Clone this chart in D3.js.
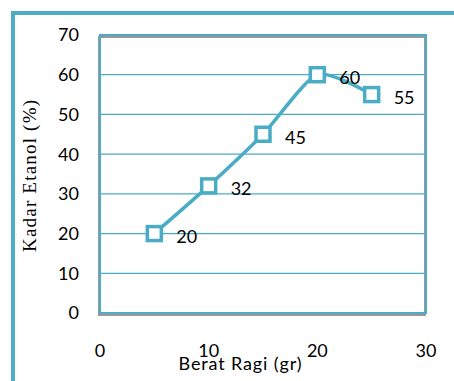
<!DOCTYPE html>
<html><head><meta charset="utf-8">
<script src="https://cdn.jsdelivr.net/npm/d3@7"></script>
<style>body{margin:0;background:#fff}svg{display:block}</style>
</head><body>
<script>
const xValues = [5, 10, 15, 20, 25];
const yValues = [20, 32, 45, 60, 55];
const xTicks = [0, 10, 20, 30];
const yTicks = [0, 10, 20, 30, 40, 50, 60, 70];
const xTitle = "Berat Ragi (gr)";
const yTitle = "Kadar Etanol (%)";

const W = 454, H = 381, C = "#4BACC6";
const svg = d3.select("body").append("svg").attr("width", W).attr("height", H);

// outer frame
svg.append("rect").attr("x", 13).attr("y", 13).attr("width", 460).attr("height", 400)
  .attr("fill", "none").attr("stroke", C).attr("stroke-width", 4);

const L = 100, R = 426, T = 35, B = 313;
const x = d3.scaleLinear().domain([0, 30]).range([L, R]);
const y = d3.scaleLinear().domain([0, 70]).range([B, T]);

// gridlines
svg.append("g").selectAll("line").data(yTicks.filter(d => d > 0 && d < 70)).join("line")
  .attr("x1", L).attr("x2", R).attr("y1", d => y(d)).attr("y2", d => y(d))
  .attr("stroke", C).attr("stroke-width", 1.2);

// plot area shadow + border
svg.append("rect").attr("x", L - 1).attr("y", T + 2).attr("width", R - L).attr("height", B - T)
  .attr("fill", "none").attr("stroke", "#999").attr("stroke-width", 2);
svg.append("rect").attr("x", L).attr("y", T).attr("width", R - L).attr("height", B - T)
  .attr("fill", "none").attr("stroke", C).attr("stroke-width", 2);

const font = "Lato, 'Open Sans', sans-serif";
const fs = 18;
// y tick labels
svg.append("g").selectAll("text").data(yTicks).join("text")
  .attr("x", 79).attr("y", d => y(d)).attr("dy", "0.36em").attr("text-anchor", "end")
  .attr("font-family", font).attr("font-size", fs).attr("fill", "#000").text(d => d);
// x tick labels
svg.append("g").selectAll("text").data(xTicks).join("text")
  .attr("x", d => x(d)).attr("y", 357).attr("text-anchor", "middle")
  .attr("font-family", font).attr("font-size", fs).attr("fill", "#000").text(d => d);

// axis titles
svg.append("text").attr("x", 240).attr("y", 370).attr("text-anchor", "middle")
  .attr("font-family", font).attr("font-size", fs).attr("fill", "#000")
  .attr("textLength", 123).text(xTitle);
svg.append("text").attr("transform", "translate(36,176) rotate(-90)")
  .attr("text-anchor", "middle").attr("font-family", "'Liberation Serif', serif")
  .attr("font-size", 19).attr("fill", "#000").attr("textLength", 152).text(yTitle);

const pts = xValues.map((v, i) => [v, yValues[i]]);
const line = d3.line().x(d => x(d[0])).y(d => y(d[1])).curve(d3.curveCardinal.tension(0.3));
svg.append("path").datum(pts).attr("d", line).attr("fill", "none")
  .attr("stroke", C).attr("stroke-width", 3.5);

svg.append("g").selectAll("rect").data(pts).join("rect")
  .attr("x", d => x(d[0]) - 7).attr("y", d => y(d[1]) - 7).attr("width", 14).attr("height", 14)
  .attr("fill", "#fff").attr("stroke", C).attr("stroke-width", 3.5);

svg.append("g").selectAll("text").data(pts).join("text")
  .attr("x", d => x(d[0]) + 22).attr("y", d => y(d[1]) + 3).attr("dy", "0.36em")
  .attr("font-family", font).attr("font-size", fs).attr("fill", "#000").text(d => d[1]);
</script>
</body></html>
